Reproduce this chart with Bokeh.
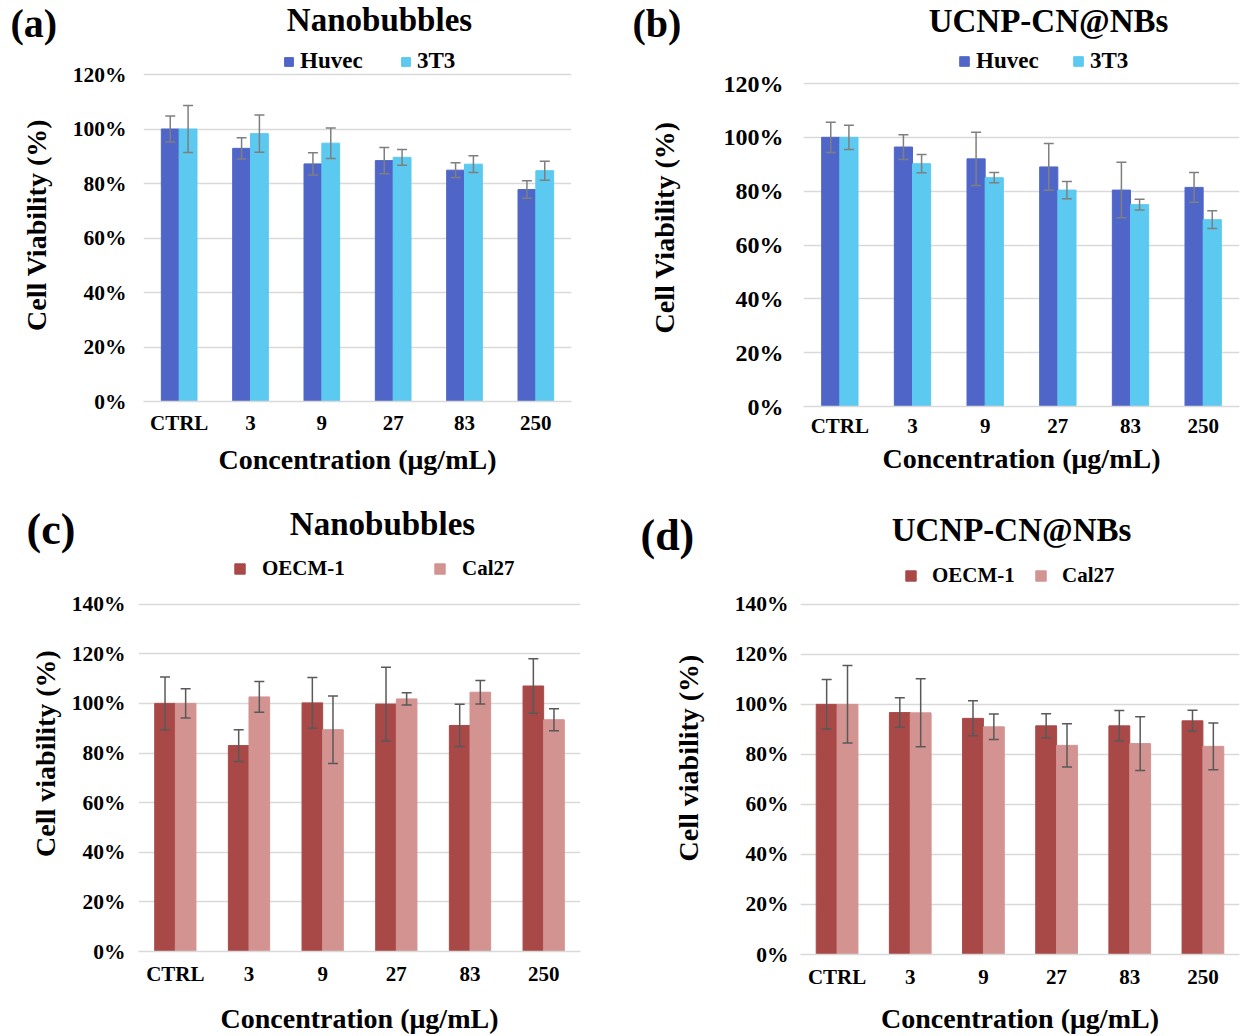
from bokeh.plotting import figure
from bokeh.models import (ColumnDataSource, FactorRange, Range1d, Whisker, TeeHead, Label,
                          Legend, LegendItem, PrintfTickFormatter, FixedTicker)
from bokeh.transform import dodge
from bokeh.layouts import row, column
from bokeh.embed import file_html
from bokeh.resources import INLINE

# ---------------- data ----------------
conc = ["CTRL", "3", "9", "27", "83", "250"]

# (a) Nanobubbles - Huvec / 3T3
a_huvec = [100, 92.9, 87.2, 88.4, 84.9, 77.8]
a_huvec_err = [4.75, 3.9, 4.1, 4.8, 2.7, 3.2]
a_3t3 = [100, 98.3, 94.8, 89.6, 87.1, 84.7]
a_3t3_err = [8.6, 6.8, 5.6, 2.9, 3.1, 3.5]

# (b) UCNP-CN@NBs - Huvec / 3T3
b_huvec = [100, 96.4, 92.0, 89.0, 80.4, 81.4]
b_huvec_err = [5.6, 4.6, 9.9, 8.7, 10.3, 5.5]
b_3t3 = [100, 90.2, 85.0, 80.4, 75.0, 69.4]
b_3t3_err = [4.5, 3.4, 1.9, 3.2, 2.0, 3.3]

# (c) Nanobubbles - OECM-1 / Cal27
c_oecm = [100, 83.0, 100.2, 99.7, 91.1, 107.0]
c_oecm_err = [10.6, 6.4, 10.2, 14.9, 8.5, 11.0]
c_cal27 = [100, 102.6, 89.4, 101.8, 104.5, 93.4]
c_cal27_err = [5.9, 6.2, 13.6, 2.5, 4.7, 4.45]

# (d) UCNP-CN@NBs - OECM-1 / Cal27
d_oecm = [100, 96.7, 94.4, 91.4, 91.4, 93.4]
d_oecm_err = [9.9, 5.9, 7.0, 4.8, 6.1, 4.2]
d_cal27 = [100, 96.6, 91.0, 83.6, 84.3, 83.2]
d_cal27_err = [15.5, 13.6, 5.1, 8.6, 10.7, 9.3]

FONT = "Liberation Serif"


def make_header(tag, title, g):
    h = figure(width=g["w"], height=g["hh"], x_range=Range1d(0, 1), y_range=Range1d(0, 1),
               x_axis_type=None, y_axis_type=None, output_backend="svg", toolbar_location=None,
               min_border=0, title_location=None, frame_align=False)
    h.outline_line_color = None
    h.add_layout(Label(x=g["px"], y=g["py"], x_units="screen", y_units="screen", text=tag,
                       text_align="left", text_baseline="alphabetic", text_font=FONT,
                       text_font_style="bold", text_font_size=g["tfs"], text_color="black"))
    h.add_layout(Label(x=g["tx"], y=g["ty"], x_units="screen", y_units="screen", text=title,
                       text_align="center", text_baseline="alphabetic", text_font=FONT,
                       text_font_style="bold", text_font_size="33px", text_color="black"))
    return h


def make_panel(names, s1, e1, s2, e2, colors, err_color, ymax, ylabel, g):
    # frame top sits above the top gridline so the legend fits inside the frame
    ytop = ymax * g["fh"] / g["gh"]
    p = figure(x_range=FactorRange(*conc), y_range=Range1d(0, ytop),
               width=g["w"], height=g["h"], output_backend="svg", toolbar_location=None,
               title_location=None, frame_align=False,
               min_border_left=g["bl"], min_border_right=g["br"],
               min_border_top=0, min_border_bottom=g["bb"])
    p.outline_line_color = None

    src = ColumnDataSource(dict(
        cat=conc, v1=s1, v2=s2,
        lo1=[v - e for v, e in zip(s1, e1)], hi1=[v + e for v, e in zip(s1, e1)],
        lo2=[v - e for v, e in zip(s2, e2)], hi2=[v + e for v, e in zip(s2, e2)],
    ))
    bw = g["bw"]
    r1 = p.vbar(x=dodge("cat", -bw / 2, range=p.x_range), top="v1", width=bw, source=src,
                fill_color=colors[0], line_color=colors[0])
    r2 = p.vbar(x=dodge("cat", bw / 2, range=p.x_range), top="v2", width=bw, source=src,
                fill_color=colors[1], line_color=colors[1])
    for off, lo, hi in ((-bw / 2, "lo1", "hi1"), (bw / 2, "lo2", "hi2")):
        w = Whisker(source=src, base=dodge("cat", off, range=p.x_range), lower=lo, upper=hi,
                    dimension="height", line_color=err_color, line_width=1.5, level="annotation",
                    upper_head=TeeHead(size=10, line_color=err_color, line_width=1.5),
                    lower_head=TeeHead(size=10, line_color=err_color, line_width=1.5))
        p.add_layout(w)

    # axes
    p.xgrid.grid_line_color = None
    p.ygrid.grid_line_color = "#d9d9d9"
    p.ygrid.grid_line_width = 1.5
    p.yaxis.ticker = FixedTicker(ticks=list(range(0, ymax + 1, 20)))
    p.yaxis.formatter = PrintfTickFormatter(format="%d%%")
    for ax in (p.xaxis[0], p.yaxis[0]):
        ax.major_tick_line_color = None
        ax.minor_tick_line_color = None
        ax.major_label_text_font = FONT
        ax.major_label_text_font_style = "bold"
        ax.major_label_text_color = "black"
        ax.axis_label_text_font = FONT
        ax.axis_label_text_font_style = "bold"
        ax.axis_label_text_color = "black"
        ax.axis_label_text_font_size = "28px"
    p.yaxis.axis_line_color = None
    p.xaxis.axis_line_color = "#d9d9d9"
    p.xaxis.axis_line_width = 1.5
    p.yaxis.major_label_text_font_size = g["yfs"]
    p.xaxis.major_label_text_font_size = "21px"
    p.yaxis.major_label_standoff = g["yls"]
    p.yaxis.axis_label_standoff = g["yas"]
    p.xaxis.major_label_standoff = g["xls"]
    p.xaxis.axis_label_standoff = g["xas"]
    p.yaxis.axis_label = ylabel
    p.xaxis.axis_label = "Concentration (\u03bcg/mL)"

    # legend (inside the frame, above the top gridline)
    lx, lcy = g["leg"]
    leg = Legend(items=[LegendItem(label=names[0], renderers=[r1]),
                        LegendItem(label=names[1], renderers=[r2])],
                 orientation="horizontal", location=(lx, lcy - 12), padding=0, margin=0,
                 spacing=0, label_width=g["lw"], label_height=20, glyph_width=g["gs"],
                 glyph_height=g["gs"], label_standoff=g["lst"], border_line_color=None,
                 background_fill_alpha=0, label_text_font=FONT, label_text_font_style="bold",
                 label_text_font_size=g["lfs"], label_text_color="black")
    p.add_layout(leg)
    return p


blue = ("#4f66c8", "#5bc9f0")
red = ("#a94947", "#d39391")

# layout geometry (pixels): fh = frame height, gh = distance top gridline -> frame bottom
ga = dict(w=620, hh=48, h=442, bl=143, br=49, bb=89, fh=353, gh=327, bw=0.25,
          yfs="21.5px", yls=11, yas=18, xls=3, xas=6,
          leg=(140, 339), lw=100, gs=11, lst=6, lfs="23px",
          tfs="40px", px=10, py=25, tx=379, ty=29)
gb = dict(w=623, hh=48, h=442, bl=183, br=4, bb=84, fh=358, gh=323, bw=0.25,
          yfs="24px", yls=14, yas=41, xls=1, xas=2,
          leg=(155, 344), lw=96, gs=12, lst=6, lfs="23px",
          tfs="40px", px=12, py=25, tx=428, ty=28)
gc = dict(w=620, hh=65, h=481, bl=138, br=40, bb=82, fh=399, gh=350, bw=0.28,
          yfs="21.5px", yls=7, yas=8, xls=4, xas=14,
          leg=(95, 382), lw=171, gs=13, lst=16, lfs="21px",
          tfs="44px", px=26, py=26, tx=382, ty=32)
gd = dict(w=623, hh=71, h=475, bl=180, br=4, bb=80, fh=395, gh=352, bw=0.285,
          yfs="21.5px", yls=6, yas=28, xls=4, xas=11,
          leg=(104, 378), lw=102, gs=13, lst=15, lfs="21px",
          tfs="44px", px=20, py=26, tx=391, ty=32)

ha = make_header("(a)", "Nanobubbles", ga)
pa = make_panel(("Huvec", "3T3"), a_huvec, a_huvec_err, a_3t3, a_3t3_err,
                blue, "#7f7f7f", 120, "Cell Viability (%)", ga)
hb = make_header("(b)", "UCNP-CN@NBs", gb)
pb = make_panel(("Huvec", "3T3"), b_huvec, b_huvec_err, b_3t3, b_3t3_err,
                blue, "#7f7f7f", 120, "Cell Viability (%)", gb)
hc = make_header("(c)", "Nanobubbles", gc)
pc = make_panel(("OECM-1", "Cal27"), c_oecm, c_oecm_err, c_cal27, c_cal27_err,
                red, "#595959", 140, "Cell viability (%)", gc)
hd = make_header("(d)", "UCNP-CN@NBs", gd)
pd = make_panel(("OECM-1", "Cal27"), d_oecm, d_oecm_err, d_cal27, d_cal27_err,
                red, "#595959", 140, "Cell viability (%)", gd)

layout = column(row(column(ha, pa), column(hb, pb)), row(column(hc, pc), column(hd, pd)))
open("out.html", "w").write(file_html(layout, INLINE))
